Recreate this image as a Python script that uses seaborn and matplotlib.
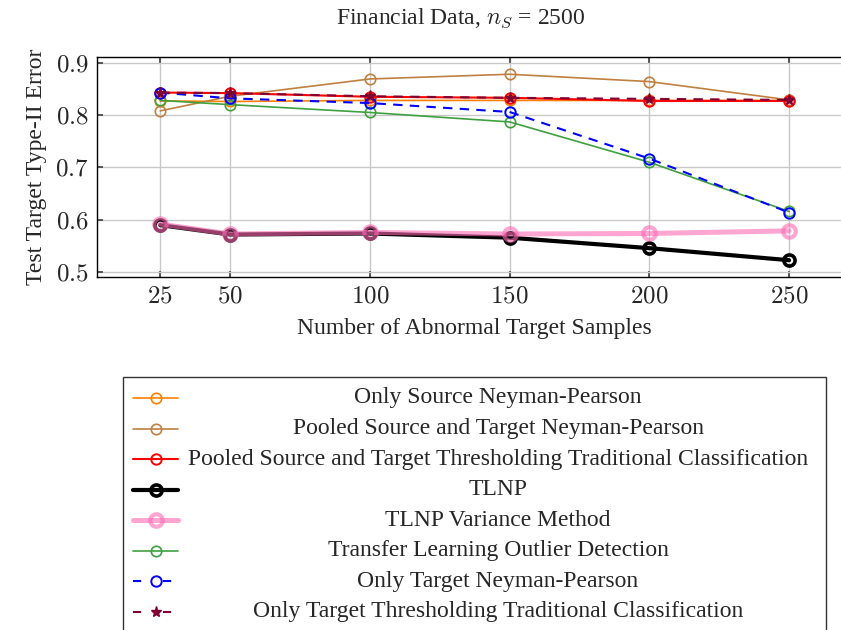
import matplotlib
matplotlib.use("Agg")
import matplotlib.pyplot as plt
import seaborn as sns
from matplotlib.lines import Line2D
from matplotlib.patches import Rectangle
from matplotlib.ticker import FuncFormatter

W, H = 841, 630

samples = [25, 50, 100, 150, 200, 250]

only_source_np = [0.827, 0.826, 0.828, 0.828, 0.828, 0.828]
pooled_np = [0.808, 0.836, 0.869, 0.878, 0.864, 0.829]
pooled_thresh = [0.843, 0.842, 0.835, 0.833, 0.827, 0.827]
tlnp = [0.590, 0.572, 0.574, 0.566, 0.546, 0.523]
tlnp_var = [0.592, 0.573, 0.576, 0.573, 0.574, 0.579]
tl_outlier = [0.828, 0.820, 0.805, 0.787, 0.710, 0.616]
only_target_np = [0.843, 0.832, 0.823, 0.806, 0.717, 0.614]
only_target_thresh = [0.843, 0.842, 0.836, 0.833, 0.831, 0.829]

labels = [
    "Only Source Neyman-Pearson",
    "Pooled Source and Target Neyman-Pearson",
    "Pooled Source and Target Thresholding Traditional Classification",
    "TLNP",
    "TLNP Variance Method",
    "Transfer Learning Outlier Detection",
    "Only Target Neyman-Pearson",
    "Only Target Thresholding Traditional Classification",
]

series = [only_source_np, pooled_np, pooled_thresh, tlnp, tlnp_var,
          tl_outlier, only_target_np, only_target_thresh]

styles = [
    dict(color="#ff8000", lw=1.2, ls="-", marker="o", ms=7.5, mew=1.2, mfc="none", alpha=1),
    dict(color="#bf8040", lw=1.2, ls="-", marker="o", ms=7.5, mew=1.2, mfc="none", alpha=1),
    dict(color="#ff0000", lw=1.5, ls="-", marker="o", ms=7.5, mew=1.4, mfc="none", alpha=1),
    dict(color="#000000", lw=3.0, ls="-", marker="o", ms=8, mew=2.6, mfc="none", alpha=1),
    dict(color="#ff69b4", lw=3.6, ls="-", marker="o", ms=9, mew=3.0, mfc="none", alpha=0.6),
    dict(color="#3fa03f", lw=1.2, ls="-", marker="o", ms=7.5, mew=1.2, mfc="none", alpha=1),
    dict(color="#0000ff", lw=1.5, ls=(0, (4.5, 3.5)), marker="o", ms=7.5, mew=1.4, mfc="none", alpha=1),
    dict(color="#800033", lw=1.5, ls=(0, (4.5, 3.5)), marker="*", ms=8, mew=1.0, mfc="#800033", alpha=1),
]

sns.set_theme(style="whitegrid")
plt.rcParams["font.family"] = ["Liberation Serif", "DejaVu Serif"]
plt.rcParams["mathtext.fontset"] = "cm"

fig = plt.figure(figsize=(W / 100, H / 100), dpi=100)
ax = fig.add_axes([97.3 / W, 1 - 276.7 / H, (852 - 97.3) / W, (276.7 - 56.7) / H])

for vals, st in zip(series, styles):
    sns.lineplot(x=samples, y=vals, ax=ax, color=st["color"], linewidth=st["lw"],
                 linestyle=st["ls"], marker=st["marker"], markersize=st["ms"],
                 markeredgewidth=st["mew"], markeredgecolor=st["color"],
                 markerfacecolor=st["mfc"], alpha=st["alpha"], legend=False)

ax.set_xlim(2.5, 272.5)
ax.set_ylim(0.4915, 0.9115)
ax.set_xticks(samples)
ax.set_yticks([0.5, 0.6, 0.7, 0.8, 0.9])
ax.xaxis.set_major_formatter(FuncFormatter(lambda v, p: f"${v:g}$"))
ax.yaxis.set_major_formatter(FuncFormatter(lambda v, p: f"${v:.1f}$"))
ax.tick_params(labelsize=18, direction="in", length=4, color="#444444",
               top=True, right=True, left=True, bottom=True, pad=6)
ax.grid(True, color="#c8c8c8", linewidth=1.0)
ax.set_facecolor("white")
for s in ax.spines.values():
    s.set_color("black")
    s.set_linewidth(1.0)

ax.set_xlabel("Number of Abnormal Target Samples", fontsize=17, labelpad=8)
ax.set_ylabel("Test Target Type-II Error", fontsize=17, labelpad=6)
fig.text(461 / W, 1 - 18 / H, "Financial Data, $n_S$ = 2500", fontsize=17,
         ha="center", va="center")

# legend drawn by hand so the labels are centred like the pgfplots one
def px(x, y):
    return x / W, 1 - y / H

x0, y0 = px(123, 377)
x1, y1 = px(826, 660)
fig.add_artist(Rectangle((x0, y1), x1 - x0, y0 - y1, transform=fig.transFigure,
                         facecolor="white", edgecolor="#333333", linewidth=1.0))
rows = [398, 428.6, 459, 489.5, 520, 550.5, 581, 611.5]
for lab, st, ry in zip(labels, styles, rows):
    xa, ya = px(133.3, ry)
    xb, _ = px(178.3, ry)
    xm, _ = px(155.7, ry)
    ls = st["ls"] if st["ls"] == "-" else (0, (3.9, 10.5))
    fig.add_artist(Line2D([xa, xb], [ya, ya], transform=fig.transFigure,
                          color=st["color"], linewidth=st["lw"], linestyle=ls,
                          alpha=st["alpha"]))
    fig.add_artist(Line2D([xm], [ya], transform=fig.transFigure, color=st["color"],
                          marker=st["marker"], markersize=st["ms"],
                          markeredgewidth=st["mew"], markeredgecolor=st["color"],
                          markerfacecolor=st["mfc"], alpha=st["alpha"], linestyle="none"))
    xt, _ = px(498, ry)
    fig.text(xt, ya, lab, fontsize=17, ha="center", va="center")

fig.savefig("out.png", dpi=100)
